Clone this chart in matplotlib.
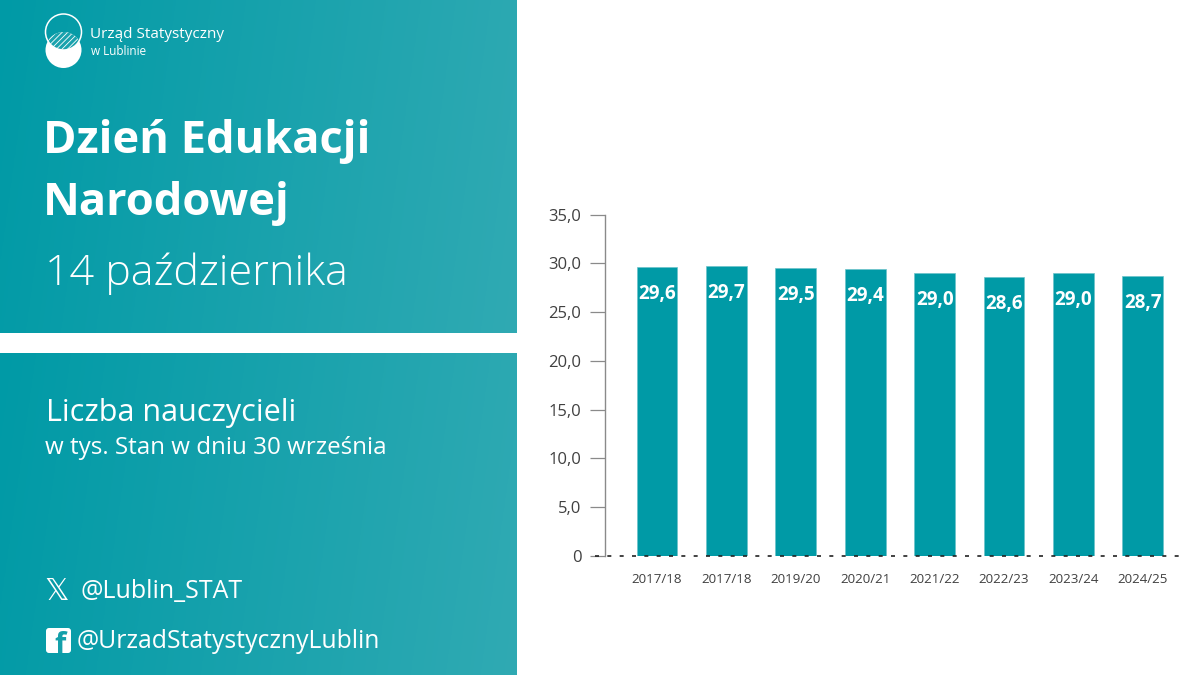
#!/usr/bin/env python3
# coding: utf-8
import matplotlib
matplotlib.use('Agg')
import matplotlib.pyplot as plt
import numpy as np
from matplotlib.patches import Circle, FancyBboxPatch

W, H = 1200, 675
TEAL = '#009aa6'
TEAL_R = '#30aab3'

years = ['2017/18', '2017/18', '2019/20', '2020/21', '2021/22', '2022/23', '2023/24', '2024/25']
teachers = [29.6, 29.7, 29.5, 29.4, 29.0, 28.6, 29.0, 28.7]
yticks = [0, 5, 10, 15, 20, 25, 30, 35]
ylabels = ['0', '5,0', '10,0', '15,0', '20,0', '25,0', '30,0', '35,0']

plt.rcParams['font.family'] = ['Open Sans', 'DejaVu Sans']
plt.rcParams['hatch.linewidth'] = 0.6

fig = plt.figure(figsize=(12, 6.75), dpi=100, facecolor='white')

# background layer, in pixels from the top left
bg = fig.add_axes([0, 0, 1, 1])
bg.axis('off')


def panel(top, bottom):
    c0 = np.array(matplotlib.colors.to_rgb(TEAL))
    c1 = np.array(matplotlib.colors.to_rgb(TEAL_R))
    xx, yy = np.meshgrid(np.linspace(0, 1, 256), np.linspace(0, 1, 64))
    t = np.clip(0.92 * xx + 0.08 * yy, 0, 1)[..., None]
    bg.imshow(c0 + (c1 - c0) * t, extent=(0, 517, bottom, top), aspect='auto', zorder=1)


def label(x, y, s, size, **kw):
    bg.text(x, y, s, color='white', fontsize=size, va='baseline', zorder=5, **kw)


panel(0, 333)
panel(353, 675)
bg.set_xlim(0, W)
bg.set_ylim(H, 0)

# logo: white disc, hatched lens where the ring overlaps it
ring = Circle((63.5, 32), 18, fc='none', ec='white', lw=1.1, zorder=4)
bg.add_patch(Circle((63.5, 50), 18, fc='white', ec='none', zorder=2))
lens = Circle((63.5, 50), 18, fc='#1aa2ad', ec='white', lw=0, hatch='//////', zorder=3)
bg.add_patch(lens)
bg.add_patch(ring)
lens.set_clip_path(ring)
label(90, 38, 'Urząd Statystyczny', 11)
label(91, 55, 'w Lublinie', 8.5)

# headings
label(43, 153, 'Dzień Edukacji', 32.6, fontweight='bold')
label(43, 215, 'Narodowej', 32.6, fontweight='bold')
label(45, 285, '14 października', 31, fontweight='light')
label(46, 421, 'Liczba nauczycieli', 22)
label(45, 454, 'w tys. Stan w dniu 30 września', 17.4)

# social
bg.text(57, 591.5, '𝕏', color='white', fontsize=22, va='center', ha='center', family='DejaVu Sans', zorder=5)
label(80, 598, '@Lublin_STAT', 18)
box = FancyBboxPatch((46, 628), 25, 25, boxstyle='round,pad=0,rounding_size=3', fc='white', ec='none', zorder=5)
bg.add_patch(box)
f_icon = bg.text(60.5, 653, 'f', color='#14a0aa', fontsize=21, fontweight='bold', va='baseline', ha='center', zorder=6)
f_icon.set_clip_path(box)
label(77, 648, '@UrzadStatystycznyLublin', 17.8)

# chart, axis placed in pixels
ax = fig.add_axes([605 / W, 1 - 556 / H, (1185 - 605) / W, (556 - 214.7) / H], facecolor='none')
ax.set_xlim(-0.749, 7.608)
ax.set_ylim(0, 35)
pos = np.arange(len(years))
ax.bar(pos, teachers, width=0.59, color=TEAL, edgecolor='#6cc3ca', linewidth=0.5, zorder=2)
for x, v in zip(pos, teachers):
    ax.annotate(f'{v:.1f}'.replace('.', ','), (x, v), xytext=(0, -27 * 0.72), textcoords='offset points',
                color='white', fontsize=13.5, fontweight='bold', ha='center', va='center', zorder=3)

for side in ('top', 'right', 'bottom'):
    ax.spines[side].set_visible(False)
ax.spines['left'].set_color('#8a8a8a')
ax.spines['left'].set_linewidth(1)
ax.set_yticks(yticks)
ax.set_yticklabels(ylabels, fontsize=12, color='#404040')
ax.tick_params(axis='y', length=11, width=0.9, color='#8a8a8a', pad=6)
ax.set_xticks(pos)
ax.set_xticklabels(years, fontsize=9.6, color='#404040')
ax.tick_params(axis='x', length=0, pad=12)
ax.plot([-0.9, 7.608], [0, 0], color='#222222', lw=1.2, dashes=(2.4, 5), zorder=4, clip_on=False)
ax.set_xlim(-0.749, 7.608)

fig.savefig('out.png', dpi=100)
